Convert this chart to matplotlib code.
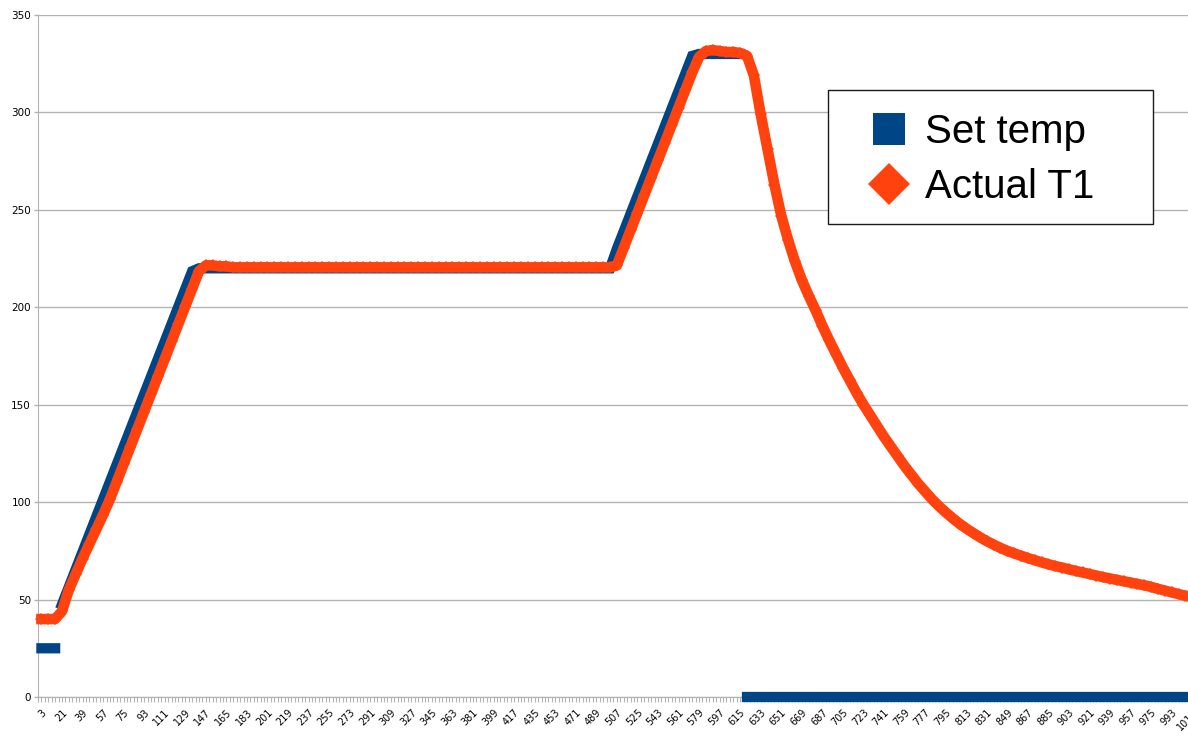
import numpy as np
import matplotlib
matplotlib.use("Agg")
import matplotlib.pyplot as plt
from matplotlib.lines import Line2D
from matplotlib.patches import Rectangle

# time in seconds, read every 6 s off the chart
seconds = list(range(3, 1012, 6))

set_temp = [
    25, 25, 25, 47.5, 56.5, 65.5, 74.5, 83.5, 92.5, 101.5,
    110.5, 119.5, 128.5, 137.5, 146.5, 155.5, 164.5, 173.5, 182.5, 191.5,
    200.5, 209.5, 218.5, 220,
    220, 220, 220, 220, 220, 220, 220, 220, 220, 220,
    220, 220, 220, 220, 220, 220, 220, 220, 220, 220,
    220, 220, 220, 220, 220, 220, 220, 220, 220, 220,
    220, 220, 220, 220, 220, 220, 220, 220, 220, 220,
    220, 220, 220, 220, 220, 220, 220, 220, 220, 220,
    220, 220, 220, 220, 220, 220, 220, 220, 220, 220,
    230, 239, 248, 257, 266, 275, 284, 293, 302, 311,
    320, 329, 330,
    330, 330, 330, 330, 330, 330,
    0, 0, 0, 0, 0, 0, 0, 0, 0, 0,
    0, 0, 0, 0, 0, 0, 0, 0, 0, 0,
    0, 0, 0, 0, 0, 0, 0, 0, 0, 0,
    0, 0, 0, 0, 0, 0, 0, 0, 0, 0,
    0, 0, 0, 0, 0, 0, 0, 0, 0, 0,
    0, 0, 0, 0, 0, 0, 0, 0, 0, 0,
    0, 0, 0, 0, 0, 0,
]

actual_t1 = [
    40, 40, 40, 44, 55, 63, 71, 78.5, 86, 93.5,
    101.5, 110.5, 119.5, 128.5, 137.5, 146.5, 155.5, 164.5, 173.5, 182.5,
    191.5, 200.5, 209.5, 218.5,
    221.5, 221.5, 221, 221, 220.5, 220.5, 220.5, 220.5, 220.5, 220.5,
    220.5, 220.5, 220.5, 220.5, 220.5, 220.5, 220.5, 220.5, 220.5, 220.5,
    220.5, 220.5, 220.5, 220.5, 220.5, 220.5, 220.5, 220.5, 220.5, 220.5,
    220.5, 220.5, 220.5, 220.5, 220.5, 220.5, 220.5, 220.5, 220.5, 220.5,
    220.5, 220.5, 220.5, 220.5, 220.5, 220.5, 220.5, 220.5, 220.5, 220.5,
    220.5, 220.5, 220.5, 220.5, 220.5, 220.5, 220.5, 220.5, 220.5, 220.5,
    221.5, 230.5, 239.5, 248.5, 257.5, 266.5, 275.5, 284.5, 293.5, 302.5,
    311.5, 320.5, 328.5,
    331.5, 332, 331.5, 331, 331, 330.5,
    329, 319, 299, 281, 263, 247, 234.5, 223.5, 214, 206,
    198.5, 190.5, 183, 176, 169, 162.5, 156, 150, 144.5, 139,
    133.5, 128.5, 123.5, 118.5, 114, 109.5, 105.5, 101.5, 98, 94.8,
    91.8, 89, 86.5, 84.2, 82, 80, 78.2, 76.5, 75, 73.7,
    72.5, 71.3, 70.2, 69.1, 68.1, 67.2, 66.4, 65.5, 64.7, 63.9,
    63.1, 62.3, 61.5, 60.8, 60.1, 59.4, 58.7, 58, 57.3, 56.5,
    55.5, 54.6, 53.7, 52.8, 52, 51.2,
]

series_names = ["Set temp", "Actual T1"]
blue = "#004586"
orange = "#ff420e"
grid_grey = "#b3b3b3"

fig = plt.figure(figsize=(11.88, 7.53), dpi=100)
ax = fig.add_axes([38 / 1188, 56 / 753, (1198 - 38) / 1188, 682 / 753])

# set temp: break the line where the setpoint jumps
xs = np.array(seconds, dtype=float)
st = np.array(set_temp, dtype=float)
brk = np.where(np.abs(np.diff(st)) > 15)[0] + 1
ax.plot(np.insert(xs, brk, np.nan), np.insert(st, brk, np.nan), color=blue,
        lw=7.4, solid_capstyle="projecting", solid_joinstyle="miter",
        clip_on=False, zorder=3)

ax.plot(xs, actual_t1, color=orange, lw=7.6, solid_joinstyle="round",
        marker="D", ms=6.1, mew=0, clip_on=False, zorder=4)

ax.set_xlim(0.4, 1016)
ax.set_ylim(0, 350)
ax.set_yticks(range(0, 351, 50))
ax.set_xticks(np.arange(3, 1012, 18))
ax.set_xticks(np.arange(0, 1016, 3), minor=True)
ax.set_xticklabels([str(v) for v in np.arange(3, 1012, 18)], rotation=45,
                   ha="right", rotation_mode="anchor", fontsize=7)
ax.tick_params(axis="y", labelsize=7.5, length=3, width=1, color=grid_grey, pad=2)
ax.tick_params(axis="x", which="both", length=3.6, width=0.8, color=grid_grey, pad=4)

ax.yaxis.grid(True, color=grid_grey, lw=1)
ax.set_axisbelow(True)
for side in ("top", "right"):
    ax.spines[side].set_visible(False)
for side in ("left", "bottom"):
    ax.spines[side].set_color(grid_grey)

# legend box
fig.patches.append(Rectangle((828 / 1188, 1 - 224 / 753), 325 / 1188, 134 / 753,
                             transform=fig.transFigure, facecolor="white",
                             edgecolor="#1a1a1a", lw=1, zorder=5))
handles = [
    Line2D([], [], ls="none", marker="s", ms=23, mew=0, color=blue),
    Line2D([], [], ls="none", marker="D", ms=21.4, mew=0, color=orange),
]
leg = fig.legend(handles, series_names, loc="upper left",
                 bbox_to_anchor=((889 - 40) / 1188, 1 - 113 / 753),
                 bbox_transform=fig.transFigure, frameon=False, borderpad=0,
                 borderaxespad=0, handlelength=2, handletextpad=-0.12,
                 labelspacing=0.42, prop={"family": "Liberation Sans", "size": 29})
leg.set_zorder(10)

fig.savefig("out.png", dpi=100)
